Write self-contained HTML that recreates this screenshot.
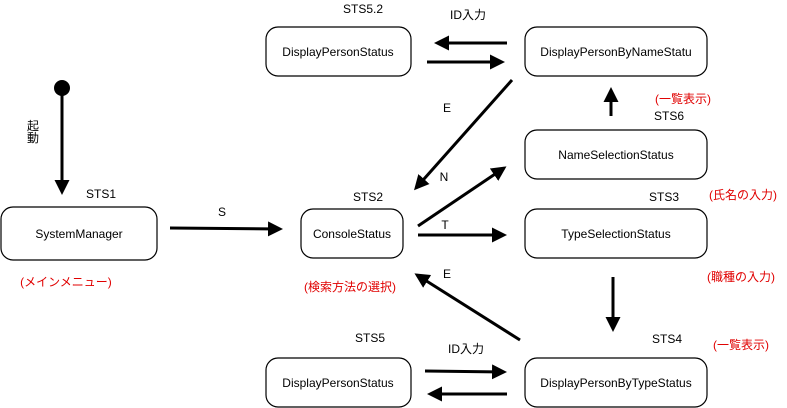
<!DOCTYPE html>
<html><head><meta charset="utf-8"><style>
html,body{margin:0;padding:0;background:#fff;}
svg{display:block;}
text{font-family:"Liberation Sans","Noto Sans CJK JP",sans-serif;font-size:12px;fill:#000;}
.r{fill:#e00000;}
</style></head><body>
<svg width="787" height="408" viewBox="0 0 787 408">
<defs>
<marker id="a" markerWidth="5" markerHeight="5" refX="4" refY="2.5" orient="auto" markerUnits="strokeWidth">
<path d="M0,0 L5,2.5 L0,5 z" fill="#000"/></marker>
</defs>
<g fill="#fff" stroke="#000" stroke-width="1.2">
<rect x="266" y="27" width="145" height="49" rx="12"/>
<rect x="525" y="27" width="182" height="49" rx="12"/>
<rect x="525" y="130" width="182" height="49" rx="12"/>
<rect x="525" y="209" width="182" height="49" rx="12"/>
<rect x="525" y="358" width="182" height="49" rx="12"/>
<rect x="266" y="358" width="145" height="49" rx="12"/>
<rect x="1" y="207" width="156" height="53" rx="12"/>
<rect x="301" y="209" width="102" height="49" rx="12"/>
</g>
<circle cx="62" cy="88" r="8" fill="#000"/>
<g stroke="#000" stroke-width="3" marker-end="url(#a)">
<line x1="62" y1="90" x2="62" y2="192"/>
<line x1="170" y1="228" x2="280" y2="229"/>
<line x1="507" y1="43" x2="437" y2="43"/>
<line x1="427" y1="62" x2="502" y2="62"/>
<line x1="512" y1="80" x2="416" y2="188"/>
<line x1="611" y1="116" x2="611" y2="90"/>
<line x1="418" y1="226" x2="504" y2="168"/>
<line x1="418" y1="235" x2="504" y2="235"/>
<line x1="520" y1="340" x2="417" y2="275"/>
<line x1="613" y1="277" x2="613" y2="329"/>
<line x1="425" y1="371" x2="504" y2="372"/>
<line x1="507" y1="394" x2="430" y2="394"/>
</g>
<g text-anchor="middle">
<text x="338" y="56">DisplayPersonStatus</text>
<text x="616" y="56">DisplayPersonByNameStatu</text>
<text x="616" y="159">NameSelectionStatus</text>
<text x="616" y="238">TypeSelectionStatus</text>
<text x="616" y="387">DisplayPersonByTypeStatus</text>
<text x="338" y="387">DisplayPersonStatus</text>
<text x="79" y="238">SystemManager</text>
<text x="352" y="238">ConsoleStatus</text>
<text x="363" y="13">STS5.2</text>
<text x="468" y="19">ID入力</text>
<text x="447" y="112">E</text>
<text x="444" y="181">N</text>
<text x="445" y="229">T</text>
<text x="447" y="278">E</text>
<text x="466" y="353">ID入力</text>
<text x="222" y="216">S</text>
<text x="101" y="198">STS1</text>
<text x="368" y="201">STS2</text>
<text x="664" y="201">STS3</text>
<text x="669" y="120">STS6</text>
<text x="667" y="343">STS4</text>
<text x="370" y="342">STS5</text>
<text x="33" y="130" font-size="11">起</text>
<text x="33" y="142" font-size="11">動</text>
<g font-size="11">
<text class="r" x="66" y="286">(メインメニュー)</text>
<text class="r" x="350" y="291">(検索方法の選択)</text>
<text class="r" x="683" y="103">(一覧表示)</text>
<text class="r" x="743" y="199">(氏名の入力)</text>
<text class="r" x="741" y="281">(職種の入力)</text>
<text class="r" x="741" y="349">(一覧表示)</text>
</g>
</g>
</svg>
</body></html>
